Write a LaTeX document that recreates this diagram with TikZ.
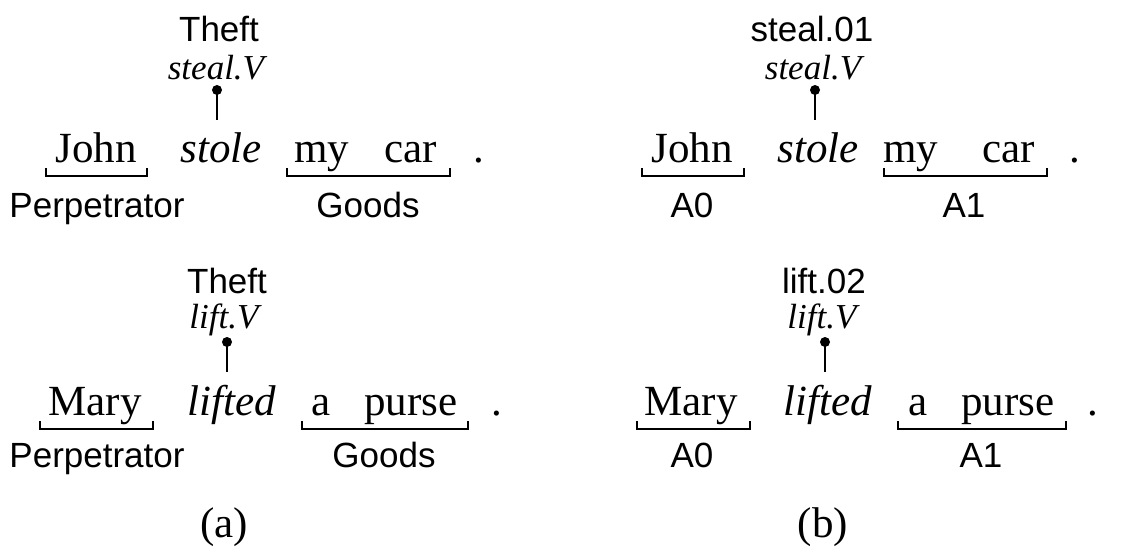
\documentclass[tikz,border=0pt]{standalone}
\usepackage{fontspec}
\setmainfont{Liberation Serif}
\setsansfont{Liberation Sans}
\begin{document}
\begin{tikzpicture}[x=1pt,y=-1pt,
  word/.style={font=\fontsize{43}{43}\selectfont, inner sep=0pt, anchor=base},
  pred/.style={font=\fontsize{43}{43}\selectfont\itshape, inner sep=0pt, anchor=base},
  lemma/.style={font=\fontsize{35}{35}\selectfont\itshape, inner sep=0pt, anchor=base},
  frame/.style={font=\fontsize{35}{35}\selectfont\sffamily, inner sep=0pt, anchor=base},
  role/.style={font=\fontsize{35}{35}\selectfont\sffamily, inner sep=0pt, anchor=base},
  subcap/.style={font=\fontsize{43}{43}\selectfont, inner sep=0pt, anchor=base},
  brk/.style={line width=2pt, line join=miter},
  pin/.style={line width=2pt},
  dotm/.style={fill=black, circle, inner sep=0pt, minimum size=10pt}]
\useasboundingbox (0,0) rectangle (1138,556);

% ---------- (a) row 1 ----------
\node[frame] (fa1) at (219,42) {Theft};
\node[lemma] (la1) at (216,80) {steal.V};
\node[dotm] (da1) at (217,90) {};
\coordinate (pa1) at (217,120);
\draw[pin] (da1.center) -- (pa1);
\node[word] (wa1a) at (96,163) {John};
\node[pred] (wa1b) at (221,163) {stole};
\node[word] (wa1c) at (322,163) {my};
\node[word] (wa1d) at (411,163) {car};
\node[word] (wa1e) at (479,163) {.};
\coordinate (ba1s) at (46,168); \coordinate (ba1e) at (147,168);
\draw[brk] (ba1s) -- ++(0,8) -| (ba1e);
\coordinate (ba1t) at (287,168); \coordinate (ba1u) at (450,168);
\draw[brk] (ba1t) -- ++(0,8) -| (ba1u);
\node[role] (ra1a) at (97,218) {Perpetrator};
\node[role] (ra1b) at (368,218) {Goods};

% ---------- (a) row 2 ----------
\node[frame] (fa2) at (227,293) {Theft};
\node[lemma] (la2) at (224,328) {lift.V};
\node[dotm] (da2) at (227,342) {};
\coordinate (pa2) at (227,372);
\draw[pin] (da2.center) -- (pa2);
\node[word] (wa2a) at (95,415) {Mary};
\node[pred] (wa2b) at (232,415) {lifted};
\node[word] (wa2c) at (321,415) {a};
\node[word] (wa2d) at (411,415) {purse};
\node[word] (wa2e) at (497,415) {.};
\coordinate (ba2s) at (40,421); \coordinate (ba2e) at (153,421);
\draw[brk] (ba2s) -- ++(0,8) -| (ba2e);
\coordinate (ba2t) at (302,421); \coordinate (ba2u) at (468,421);
\draw[brk] (ba2t) -- ++(0,8) -| (ba2u);
\node[role] (ra2a) at (97,467) {Perpetrator};
\node[role] (ra2b) at (384,467) {Goods};

\node[subcap] (capa) at (224,537) {(a)};

% ---------- (b) row 1 ----------
\node[frame] (fb1) at (812,42) {steal.01};
\node[lemma] (lb1) at (813,80) {steal.V};
\node[dotm] (db1) at (815,90) {};
\coordinate (pb1) at (815,120);
\draw[pin] (db1.center) -- (pb1);
\node[word] (wb1a) at (692,163) {John};
\node[pred] (wb1b) at (818,163) {stole};
\node[word] (wb1c) at (911,163) {my};
\node[word] (wb1d) at (1009,163) {car};
\node[word] (wb1e) at (1075,163) {.};
\coordinate (bb1s) at (642,168); \coordinate (bb1e) at (744,168);
\draw[brk] (bb1s) -- ++(0,8) -| (bb1e);
\coordinate (bb1t) at (884,168); \coordinate (bb1u) at (1047,168);
\draw[brk] (bb1t) -- ++(0,8) -| (bb1u);
\node[role] (rb1a) at (692,218) {A0};
\node[role] (rb1b) at (964,218) {A1};

% ---------- (b) row 2 ----------
\node[frame] (fb2) at (824,293) {lift.02};
\node[lemma] (lb2) at (822,328) {lift.V};
\node[dotm] (db2) at (825,342) {};
\coordinate (pb2) at (825,372);
\draw[pin] (db2.center) -- (pb2);
\node[word] (wb2a) at (691,415) {Mary};
\node[pred] (wb2b) at (828,415) {lifted};
\node[word] (wb2c) at (918,415) {a};
\node[word] (wb2d) at (1008,415) {purse};
\node[word] (wb2e) at (1093,415) {.};
\coordinate (bb2s) at (637,421); \coordinate (bb2e) at (750,421);
\draw[brk] (bb2s) -- ++(0,8) -| (bb2e);
\coordinate (bb2t) at (898,421); \coordinate (bb2u) at (1066,421);
\draw[brk] (bb2t) -- ++(0,8) -| (bb2u);
\node[role] (rb2a) at (692,467) {A0};
\node[role] (rb2b) at (981,467) {A1};

\node[subcap] (capb) at (823,537) {(b)};
\end{tikzpicture}
\end{document}
